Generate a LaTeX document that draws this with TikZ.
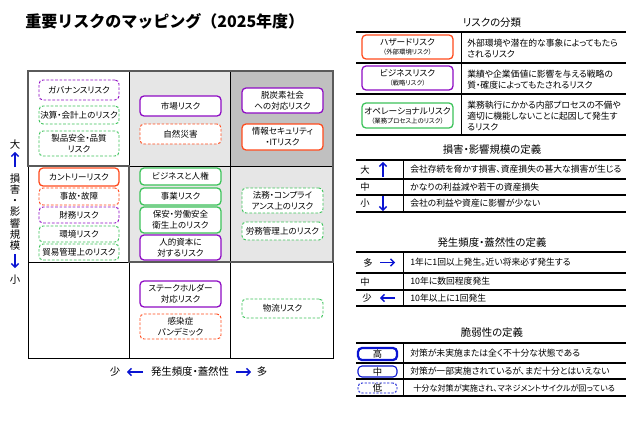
\documentclass[tikz,border=0pt]{standalone}
\usepackage{fontspec}
\setmainfont[RawFeature=+palt]{Noto Sans CJK JP}
\newfontfamily\titlefont{Noto Sans CJK JP}
\usetikzlibrary{arrows.meta}
\definecolor{rorange}{HTML}{FF4A1C}
\definecolor{rpurple}{HTML}{8E0CC4}
\definecolor{rgreen}{HTML}{3CC35A}
\definecolor{rblue}{HTML}{0A14D2}
\definecolor{gridgray}{HTML}{5A5A5A}
\definecolor{cellA}{HTML}{E6E6E6}
\definecolor{cellB}{HTML}{C0C0C0}
\newcommand\rbx[7]{\node[#6, minimum width={(#4-#2)*0.75pt}, minimum height={(#5-#3)*0.75pt}] (#1) at ({(#2+#4)/2},{(#3+#5)/2}) {#7};}
\begin{document}
\begin{tikzpicture}[x=0.75pt,y=-0.75pt,
  rb/.style={rectangle, rounded corners=3pt, fill=white, inner sep=0pt, align=center, font=\fontsize{6.4}{8.2}\selectfont},
  hi/.style={rb, line width=0.95pt},
  lo/.style={rb, line width=0.7pt, dash pattern=on 2pt off 1.3pt},
  ttl/.style={font=\fontsize{7.8}{9}\selectfont},
  desc/.style={anchor=west, align=left, font=\fontsize{6.6}{8.3}\selectfont, inner sep=0pt},
  lbl/.style={font=\fontsize{7}{8}\selectfont, inner sep=0pt},
  axl/.style={font=\fontsize{7.8}{8.3}\selectfont, inner sep=0pt, align=center},
  tline/.style={line width=0.8pt, black},
  vline/.style={line width=0.6pt, black},
  barrow/.style={rblue, line width=1.1pt, -{Straight Barb[length=2.6pt,width=5.5pt]}},
  thin/.style={line width=0.7pt, black},
  thick/.style={line width=2pt, gridgray}
]
\useasboundingbox[fill=white] (0,0) rectangle (641,421);

% title
\node[anchor=west, inner sep=0pt, font=\titlefont\fontsize{12}{14}\selectfont\bfseries] (title) at (25,21) {重要リスクのマッピング（2025年度）};

% matrix cells
\fill[cellA] (129,71) rectangle (230,166);
\fill[cellB] (230,71) rectangle (333,166);
\fill[cellA] (129,166) rectangle (333,262);
\draw[thin] (28,71) rectangle (333,358);
\draw[thin] (129,71) -- (129,358);
\draw[thin] (230,71) -- (230,358);
\draw[thin] (28,166) -- (333,166);
\draw[thin] (28,262) -- (333,262);
\draw[thick, line join=miter] (28,71) -- (333,71) -- (333,262) -- (129,262) -- (129,166) -- (28,166) -- cycle;

% risk boxes
\rbx{gov}{39}{80}{119}{100}{lo,draw=rpurple}{ガバナンスリスク}
\rbx{acc}{39}{106}{119}{124}{lo,draw=rgreen}{決算・会計上のリスク}
\rbx{prod}{39}{131}{119}{156}{lo,draw=rgreen}{製品安全・品質\\リスク}
\rbx{mkt}{140}{96}{221}{116}{hi,draw=rpurple}{市場リスク}
\rbx{nat}{140}{124}{221}{144}{lo,draw=rorange}{自然災害}
\rbx{dec}{242}{88}{323}{113}{hi,draw=rpurple}{脱炭素社会\\への対応リスク}
\rbx{sec}{242}{124}{323}{150}{hi,draw=rorange}{情報セキュリティ\\・ITリスク}
\rbx{ctry}{39}{168}{119}{186}{hi,draw=rorange}{カントリーリスク}
\rbx{accd}{39}{188}{119}{205}{lo,draw=rorange}{事故・故障}
\rbx{fin}{39}{207}{119}{223}{lo,draw=rpurple}{財務リスク}
\rbx{env}{39}{226}{119}{242}{lo,draw=rgreen}{環境リスク}
\rbx{trade}{39}{244}{119}{260}{lo,draw=rgreen}{貿易管理上のリスク}
\rbx{hr}{140}{168}{221}{185}{hi,draw=rgreen}{ビジネスと人権}
\rbx{biz}{140}{188}{221}{205}{hi,draw=rgreen}{事業リスク}
\rbx{safe}{140}{207}{221}{233}{hi,draw=rgreen}{保安・労働安全\\衛生上のリスク}
\rbx{hum}{140}{235}{221}{260}{hi,draw=rpurple}{人的資本に\\対するリスク}
\rbx{law}{242}{188}{323}{213}{lo,draw=rgreen}{法務・コンプライ\\アンス上のリスク}
\rbx{labor}{242}{222}{323}{240}{lo,draw=rgreen}{労務管理上のリスク}
\rbx{stake}{140}{281}{221}{307}{hi,draw=rpurple}{ステークホルダー\\対応リスク}
\rbx{pand}{140}{314}{221}{339}{lo,draw=rorange}{感染症\\パンデミック}
\rbx{logi}{242}{299}{323}{318}{lo,draw=rgreen}{物流リスク}

% vertical axis
\node[axl] (vbig) at (15,145) {大};
\coordinate (vua) at (15,167);
\coordinate (vub) at (15,152);
\draw[barrow] (vua) -- (vub);
\node[axl] (vtxt) at (15,212) {損\\害\\・\\影\\響\\規\\模};
\coordinate (vda) at (15,254);
\coordinate (vdb) at (15,268);
\draw[barrow] (vda) -- (vdb);
\node[axl] (vsmall) at (15,280) {小};

% horizontal axis
\node[axl] (hsmall) at (115,372) {少};
\coordinate (hla) at (143,372);
\coordinate (hlb) at (127,372);
\draw[barrow] (hla) -- (hlb);
\node[axl] (htxt) at (190,372) {発生頻度・蓋然性};
\coordinate (hra) at (236,372);
\coordinate (hrb) at (251,372);
\draw[barrow] (hra) -- (hrb);
\node[axl] (hbig) at (262,372) {多};

% ---- table 1
\node[ttl] (t1) at (492,23) {リスクの分類};
\foreach \y in {32,63,94,135} \draw[tline] (356,\y) -- (626,\y);
\draw[vline] (461,32) -- (461,135);
\rbx{hz}{362}{35}{453}{59}{hi,draw=rorange}{{\fontsize{6.5}{8}\selectfont ハザードリスク}\\[-1.5pt]{\fontsize{4.8}{6}\selectfont （外部環境リスク）}}
\rbx{bz}{362}{66}{453}{90}{hi,draw=rpurple}{{\fontsize{6.5}{8}\selectfont ビジネスリスク}\\[-1.5pt]{\fontsize{4.8}{6}\selectfont （戦略リスク）}}
\rbx{op}{362}{103}{453}{128}{hi,draw=rgreen}{{\fontsize{6.5}{8}\selectfont オペレーショナルリスク}\\[-1.5pt]{\fontsize{4.8}{6}\selectfont （業務プロセス上のリスク）}}
\node[desc] (d1) at (467,48.5) {外部環境や潜在的な事象によってもたら\\されるリスク};
\node[desc] (d2) at (467,79.5) {業績や企業価値に影響を与える戦略の\\質・確度によってもたされるリスク};
\node[desc] (d3) at (467,116) {業務執行にかかる内部プロセスの不備や\\適切に機能しないことに起因して発生す\\るリスク};

% ---- table 2
\node[ttl] (t2) at (492,150) {損害・影響規模の定義};
\foreach \y in {160,179,195,212} \draw[tline] (356,\y) -- (626,\y);
\draw[vline] (403,160) -- (403,212);
\node[lbl] (l2a) at (365,169.5) {大};
\coordinate (u2a) at (383,177);
\coordinate (u2b) at (383,162);
\draw[barrow] (u2a) -- (u2b);
\node[lbl] (l2b) at (365,187) {中};
\node[lbl] (l2c) at (365,203.5) {小};
\coordinate (d2a) at (383,196);
\coordinate (d2b) at (383,211);
\draw[barrow] (d2a) -- (d2b);
\node[desc] (e2a) at (410,169.5) {会社存続を脅かす損害、資産損失の甚大な損害が生じる};
\node[desc] (e2b) at (410,187) {かなりの利益減や若干の資産損失};
\node[desc] (e2c) at (410,203.5) {会社の利益や資産に影響が少ない};

% ---- table 3
\node[ttl] (t3) at (492,243) {発生頻度・蓋然性の定義};
\foreach \y in {252,273,290,306} \draw[tline] (356,\y) -- (626,\y);
\draw[vline] (403,252) -- (403,306);
\node[lbl] (l3a) at (368,262.5) {多};
\coordinate (r3a) at (380,262.5);
\coordinate (r3b) at (395,262.5);
\draw[barrow] (r3a) -- (r3b);
\node[lbl] (l3b) at (365,281.5) {中};
\node[lbl] (l3c) at (367,298) {少};
\coordinate (q3a) at (395,298);
\coordinate (q3b) at (380,298);
\draw[barrow] (q3a) -- (q3b);
\node[desc] (e3a) at (410,262.5) {1年に1回以上発生。近い将来必ず発生する};
\node[desc] (e3b) at (410,281.5) {10年に数回程度発生};
\node[desc] (e3c) at (410,298) {10年以上に1回発生};

% ---- table 4
\node[ttl] (t4) at (492,333) {脆弱性の定義};
\foreach \y in {343,363,379,396} \draw[tline] (356,\y) -- (626,\y);
\draw[vline] (403,343) -- (403,396);
\rbx{vh}{358}{348}{397}{360}{rb,draw=rblue,line width=1.7pt,font=\fontsize{7}{8}\selectfont}{高}
\rbx{vm}{358}{366}{397}{377}{rb,draw=rblue,line width=0.8pt,font=\fontsize{7}{8}\selectfont}{中}
\rbx{vl}{358}{383}{397}{393}{rb,draw=rblue,line width=0.7pt,dash pattern=on 1.6pt off 1.2pt,font=\fontsize{7}{8}\selectfont}{低}
\node[desc] (e4a) at (410,353.5) {対策が未実施または全く不十分な状態である};
\node[desc] (e4b) at (410,371) {対策が一部実施されているが、まだ十分とはいえない};
\node[desc, font=\fontsize{6.1}{8}\selectfont] (e4c) at (413,388) {十分な対策が実施され、マネジメントサイクルが回っている};
\end{tikzpicture}
\end{document}
